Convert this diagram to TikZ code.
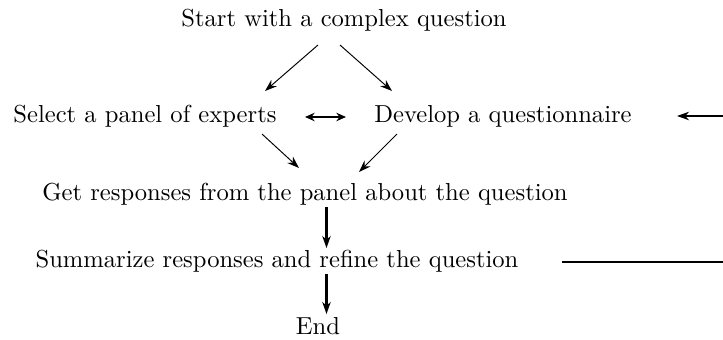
\documentclass[tikz,border=0pt]{standalone}
\usetikzlibrary{arrows.meta}
\begin{document}
\begin{tikzpicture}[x=0.415pt,y=-0.415pt,
  lbl/.style={inner sep=0pt,font=\fontsize{10.2}{12}\selectfont},
  thin arrow/.style={line width=0.4pt,-{Stealth[length=5pt,width=3.5pt]}},
  thick arrow/.style={line width=0.9pt,-{Stealth[length=5pt,width=3.5pt]}},
  both arrow/.style={line width=0.7pt,{Stealth[length=4pt,width=3.5pt]}-{Stealth[length=4pt,width=3.5pt]}},
  fb line/.style={line width=0.8pt}]
\useasboundingbox (0,0) rectangle (723,339);
\node[lbl] (start) at (344,20) {Start with a complex question};
\node[lbl] (sel) at (145,116) {Select a panel of experts};
\node[lbl] (dev) at (503,116) {Develop a questionnaire};
\node[lbl] (get) at (305,194) {Get responses from the panel about the question};
\node[lbl] (sum) at (277,261) {Summarize responses and refine the question};
\node[lbl] (end) at (318,326) {End};
% connector end points
\coordinate (s1) at (318,45);  \coordinate (s1t) at (265,91);
\coordinate (s2) at (340,45);  \coordinate (s2t) at (392,91);
\coordinate (g1) at (262,134); \coordinate (g1t) at (299,168);
\coordinate (g2) at (397,134); \coordinate (g2t) at (359,172);
\coordinate (v1) at (326.5,207); \coordinate (v1t) at (326.5,248);
\coordinate (v2) at (326.5,274); \coordinate (v2t) at (326.5,314);
\coordinate (d1) at (305,117); \coordinate (d2) at (346,117);
\coordinate (fbA) at (562,262); \coordinate (fbB) at (723,262);
\coordinate (fbC) at (723,116); \coordinate (fbD) at (677,116);
\draw[thin arrow] (s1) -- (s1t);
\draw[thin arrow] (s2) -- (s2t);
\draw[thin arrow] (g1) -- (g1t);
\draw[thin arrow] (g2) -- (g2t);
\draw[thick arrow] (v1) -- (v1t);
\draw[thick arrow] (v2) -- (v2t);
\draw[both arrow] (d1) -- (d2);
\draw[fb line] (fbA) -- (fbB);
\draw[fb line,-{Stealth[length=5pt,width=3.5pt]}] (fbC) -- (fbD);
\end{tikzpicture}
\end{document}
